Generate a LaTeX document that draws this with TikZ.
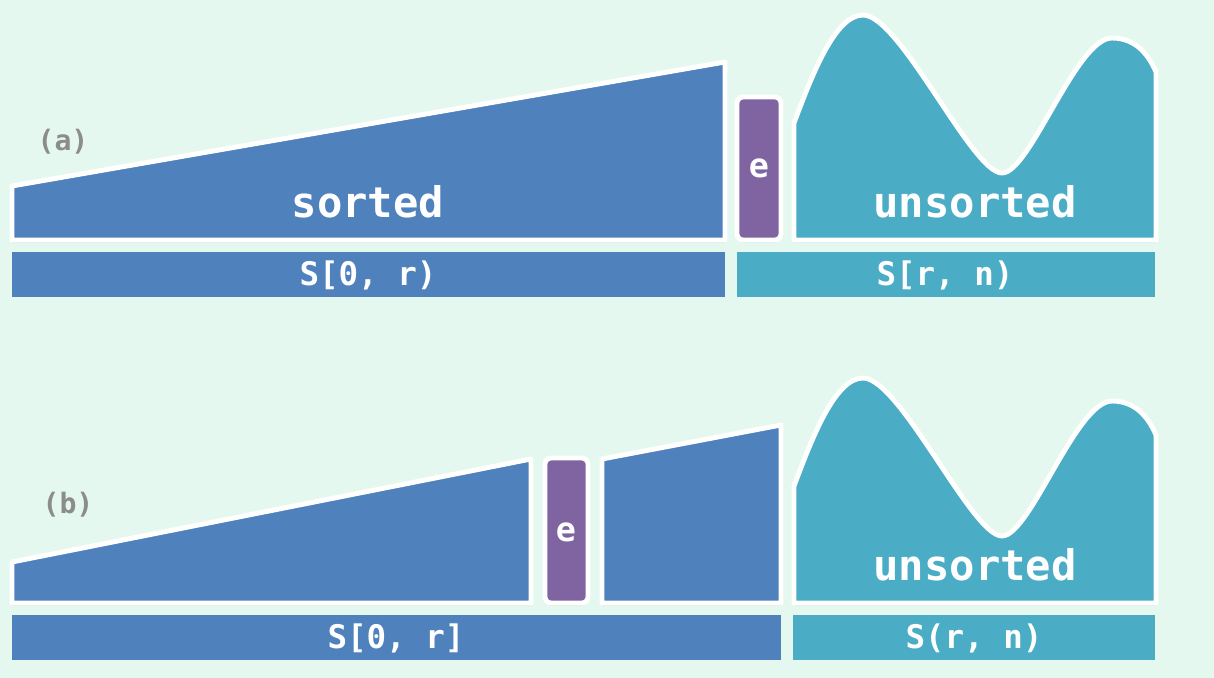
\documentclass[tikz,border=0pt]{standalone}
\usepackage{fontspec}
\setmonofont{DejaVu Sans Mono}
\usetikzlibrary{shadows}

\definecolor{bgmint}{HTML}{E5F8EF}
\definecolor{sortblue}{HTML}{4F81BD}
\definecolor{restteal}{HTML}{4BACC6}
\definecolor{elempurple}{HTML}{8064A2}
\definecolor{taggray}{HTML}{8C8C8C}

\tikzset{
  piece/.style={draw=white, line width=2.8pt, line join=round,
    drop shadow={shadow xshift=0pt, shadow yshift=-1.4pt, opacity=0.18, fill=black}},
  elembox/.style={piece, fill=elempurple, rounded corners=3.5pt},
  bigtxt/.style={text=white, font=\ttfamily\bfseries\fontsize{24}{28}\selectfont},
  bartxt/.style={text=white, font=\ttfamily\bfseries\fontsize{18.5}{22}\selectfont},
  elemtxt/.style={text=white, font=\ttfamily\bfseries\fontsize{19}{22}\selectfont},
  tagtxt/.style={text=taggray, font=\ttfamily\bfseries\fontsize{16}{19}\selectfont},
}

\begin{document}
\begin{tikzpicture}[x=0.02cm, y=-0.02cm]
    \fill[bgmint] (0,0) rectangle (1214,678);
    \useasboundingbox (0,0) rectangle (1214,678);

    % unsorted waves, same shape in both rows
    \foreach \dy in {0,363}{
        \begin{scope}[shift={(0,\dy)}]
            \draw[piece, fill=restteal] (794,240) -- (794,123)
                .. controls (812,75) and (835,15) .. (863,15)
                .. controls (900,15) and (972,173) .. (1002,173)
                .. controls (1030,173) and (1076,38) .. (1112,38)
                .. controls (1138,38) and (1150,58) .. (1156,72)
                -- (1156,240) -- cycle;
        \end{scope}
    }

    % (a)
    \node[tagtxt] (tagA) at (63,142) {(a)};
    \draw[piece, fill=sortblue] (12,240) -- (12,186) -- (725,62) -- (725,240) -- cycle;
    \draw[elembox] (737,97) rectangle (781,240);
    \node[bigtxt] (sortedA) at (368,202) {sorted};
    \node[elemtxt] (elemA) at (759,168) {e};
    \node[bigtxt] (unsortedA) at (975,202) {unsorted};
    \fill[sortblue] (12,252) rectangle (725,297);
    \fill[restteal] (737,252) rectangle (1155,297);
    \node[bartxt] (rangeSA) at (368,275) {S[0, r)};
    \node[bartxt] (rangeUA) at (945,275) {S[r, n)};

    % (b)
    \node[tagtxt] (tagB) at (68,505) {(b)};
    \draw[piece, fill=sortblue] (12,603) -- (12,562) -- (531,459) -- (531,603) -- cycle;
    \draw[elembox] (545,458) rectangle (588,603);
    \draw[piece, fill=sortblue] (602,603) -- (602,459) -- (781,425) -- (781,603) -- cycle;
    \node[elemtxt] (elemB) at (566,532) {e};
    \node[bigtxt] (unsortedB) at (975,565) {unsorted};
    \fill[sortblue] (12,615) rectangle (781,660);
    \fill[restteal] (793,615) rectangle (1155,660);
    \node[bartxt] (rangeSB) at (396,638) {S[0, r]};
    \node[bartxt] (rangeUB) at (974,638) {S(r, n)};
\end{tikzpicture}
\end{document}
